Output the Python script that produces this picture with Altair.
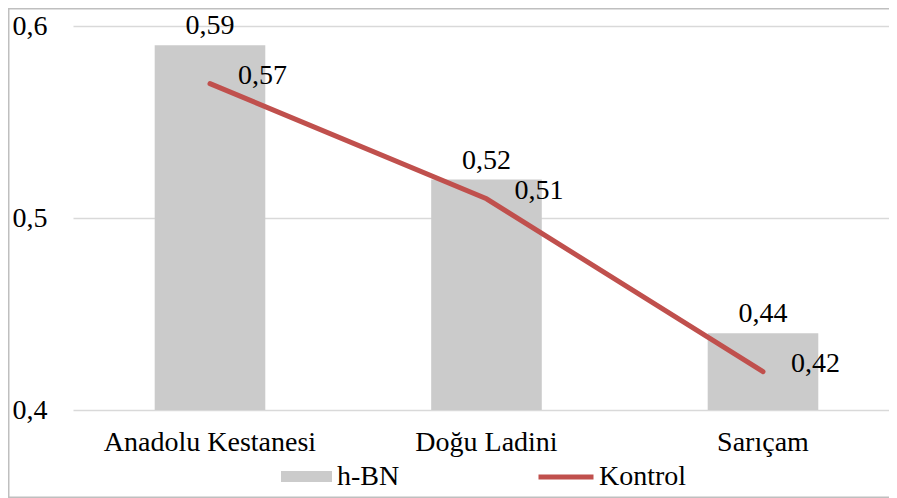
import altair as alt
import pandas as pd

categories = ["Anadolu Kestanesi", "Doğu Ladini", "Sarıçam"]
hbn = [0.59, 0.52, 0.44]
kontrol = [0.57, 0.51, 0.42]
y_ticks = [0.4, 0.5, 0.6]

df = pd.DataFrame({"cat": categories, "hbn": hbn, "kontrol": kontrol})

FONT = "Liberation Serif"
FS = 28
W, H = 816, 384
PAD = {"left": 65, "top": 18, "right": 0, "bottom": 88}

base = alt.Chart(df).transform_calculate(
    s1="'h-BN'",
    s2="'Kontrol'",
    lb1="replace(format(datum.hbn, '.2f'), '.', ',')",
    lb2="replace(format(datum.kontrol, '.2f'), '.', ',')",
)

xenc = alt.X(
    "cat:N",
    sort=categories,
    scale=alt.Scale(paddingInner=0.6, paddingOuter=0.2756, align=0.536),
    axis=alt.Axis(
        title=None, labelAngle=0, domain=False, ticks=False, tickSize=0,
        labelFont=FONT, labelFontSize=FS, labelColor="#000000", labelPadding=18,
        labelLimit=600,
    ),
)
yscale = alt.Scale(domain=[0.4, 0.6], nice=False, zero=False)

bars = base.mark_bar().encode(
    x=xenc,
    y=alt.Y(
        "hbn:Q",
        scale=yscale,
        axis=alt.Axis(
            title=None, values=y_ticks, domain=False, ticks=False, tickSize=0,
            labelExpr="replace(format(datum.value, '.1f'), '.', ',')",
            grid=True, gridColor="#D9D9D9", gridWidth=1.5,
            labelFont=FONT, labelFontSize=FS, labelColor="#000000", labelPadding=26,
        ),
    ),
    y2=alt.datum(0.4),
    fill=alt.Fill(
        "s1:N",
        scale=alt.Scale(domain=["h-BN"], range=["#CBCBCB"]),
        legend=alt.Legend(
            title=None, orient="none", legendX=208, legendY=425,
            symbolType="M-1,-0.22H1V0.22H-1Z", symbolSize=2601,
            symbolStrokeWidth=0, labelOffset=5,
            labelFont=FONT, labelFontSize=FS, labelColor="#000000",
        ),
    ),
)

line = base.mark_line(strokeWidth=5, strokeCap="round").encode(
    x=alt.X("cat:N", sort=categories),
    y=alt.Y("kontrol:Q"),
    stroke=alt.Stroke(
        "s2:N",
        scale=alt.Scale(domain=["Kontrol"], range=["#C0504D"]),
        legend=alt.Legend(
            title=None, orient="none", legendX=463, legendY=421,
            symbolType="stroke", symbolSize=3025, symbolStrokeWidth=5,
            labelOffset=3,
            labelFont=FONT, labelFontSize=FS, labelColor="#000000",
        ),
    ),
)

bar_labels = base.mark_text(
    font=FONT, fontSize=FS, color="#000000", baseline="middle", align="center", dy=-19
).encode(x=alt.X("cat:N", sort=categories), y=alt.Y("hbn:Q"), text="lb1:N")

line_labels = base.mark_text(
    font=FONT, fontSize=FS, color="#000000", baseline="middle", align="left", dx=28, dy=-8
).encode(x=alt.X("cat:N", sort=categories), y=alt.Y("kontrol:Q"), text="lb2:N")

frame = alt.Chart(alt.Data(values=[{"a": 1}])).mark_rect(
    fillOpacity=0, stroke="#BFBFBF", strokeWidth=1.5
).encode(
    x=alt.value(-64.25), x2=alt.value(W + 60),
    y=alt.value(-17.25), y2=alt.value(H + PAD["bottom"] - 0.75),
)

chart = alt.layer(bars, line, bar_labels, line_labels, frame).properties(
    width=W, height=H,
    autosize=alt.AutoSizeParams(type="none"),
    padding=PAD,
    background="#FFFFFF",
).configure_view(stroke=None)

chart.save("out.html", embed_options={"renderer": "svg", "actions": False})
